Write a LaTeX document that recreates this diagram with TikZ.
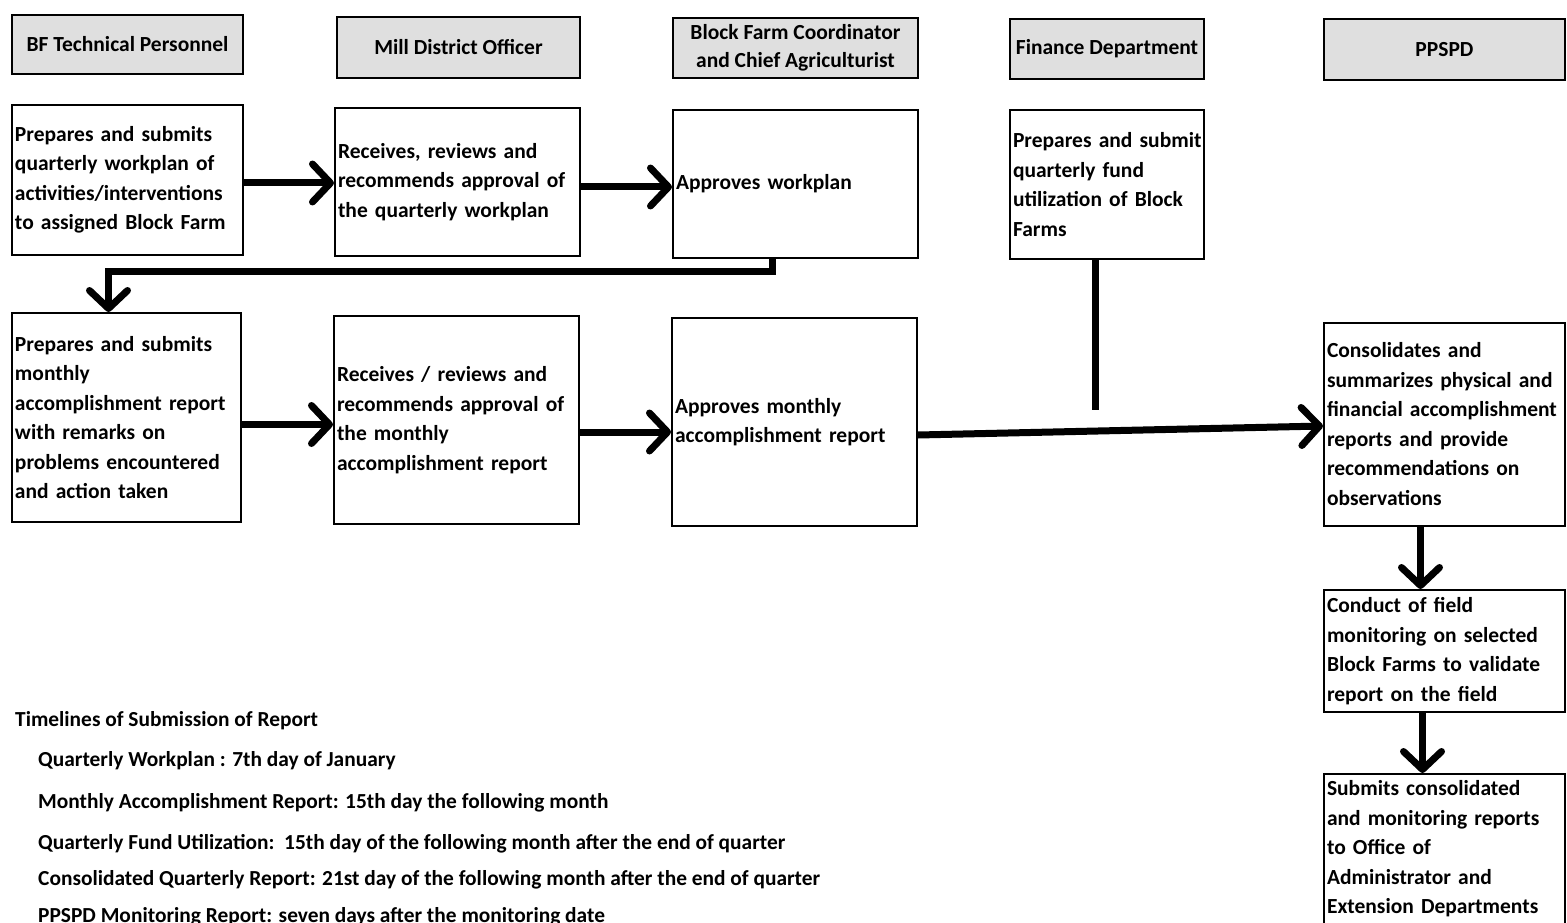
\documentclass[tikz,border=0pt]{standalone}
\usepackage{fontspec}
\setmainfont{Carlito}
\usetikzlibrary{arrows.meta}
\newcommand\nohyphs{\hyphenpenalty=10000 \exhyphenpenalty=10000 \hbadness=10000 \hfuzz=20pt\relax}
\begin{document}
\begin{tikzpicture}[x=1pt,y=-1pt,
  hdr/.style={draw=black, line width=2.6pt, fill=gray!25, font=\bfseries\fontsize{21.5}{28}\selectfont, align=center, inner sep=0pt},
  box/.style={draw=black, line width=2pt, font=\bfseries\fontsize{21.5}{29.5}\selectfont\nohyphs, align=left, inner xsep=3pt, inner ysep=0pt},
  flow/.style={line width=7pt, -{Straight Barb[length=18pt,width=38pt,line cap=round,line join=round]}},
  link/.style={line width=7pt},
  note/.style={font=\bfseries\fontsize{21.4}{24}\selectfont, anchor=base west, inner sep=0pt}
]
\useasboundingbox (0,0) rectangle (1567,923);
% headers
\node[hdr, minimum width=231, minimum height=59] (h1) at (127.5,44.5) {BF Technical Personnel};
\node[hdr, minimum width=243, minimum height=61] (h2) at (458.5,47.5) {Mill District Officer};
\node[hdr, minimum width=245, minimum height=60] (h3) at (795.5,48) {Block Farm Coordinator\\and Chief Agriculturist};
\node[hdr, minimum width=194, minimum height=60] (h4) at (1107,49) {Finance Department};
\node[hdr, minimum width=241, minimum height=61] (h5) at (1444.5,49.5) {PPSPD};
% row 1
\node[box, minimum width=231, minimum height=150, text width=225] (b1) at (127.5,180) {Prepares and submits\\quarterly workplan of\\activities/interventions\\to assigned Block Farm};
\node[box, minimum width=245, minimum height=148, text width=239] (b2) at (457.5,182) {Receives, reviews and\\recommends approval of\\the quarterly workplan};
\node[box, minimum width=245, minimum height=148, text width=239] (b3) at (795.5,184) {Approves workplan};
\node[box, minimum width=194, minimum height=149, text width=188] (b4) at (1107,184.5) {Prepares~and~submit\\quarterly fund\\utilization of Block\\Farms};
% row 2
\node[box, minimum width=229, minimum height=209, text width=223] (b5) at (126.5,417.5) {Prepares and submits\\monthly\\accomplishment report\\with remarks on\\problems encountered\\and action taken};
\node[box, minimum width=245, minimum height=208, text width=239] (b6) at (456.5,420) {Receives / reviews and\\recommends approval of\\the monthly\\accomplishment report};
\node[box, minimum width=245, minimum height=208, text width=239] (b7) at (794.5,422) {Approves monthly\\accomplishment report};
\node[box, minimum width=241, minimum height=203, text width=235] (b8) at (1444.5,424) {Consolidates and\\summarizes physical and\\financial accomplishment\\reports and provide\\recommendations on\\observations};
\node[box, minimum width=241, minimum height=122, text width=235] (b9) at (1444.5,651) {Conduct of field\\monitoring on selected\\Block Farms to validate\\report on the field};
\node[box, minimum width=241, minimum height=150, text width=235] (b10) at (1444.5,849) {Submits consolidated\\and monitoring reports\\to Office of\\Administrator and\\Extension Departments};
% connectors
\draw[flow] ([yshift=-3]b1.east) -- ([yshift=-3]b1.east -| b2.west);
\draw[flow] ([yshift=-5]b2.east) -- ([yshift=-5]b2.east -| b3.west);
\draw[flow] ([yshift=-7]b5.east) -- ([yshift=-7]b5.east -| b6.west);
\draw[flow] ([yshift=-12]b6.east) -- ([yshift=-12]b6.east -| b7.west);
\coordinate (fb) at ([xshift=-23]b3.south);
\coordinate (fb2) at ([xshift=-18]b5.north);
\draw[flow] (fb) -- ++(0,12) -| (fb2);
\draw[flow] ([yshift=-13]b7.east) -- ([yshift=-2]b8.west);
\coordinate (j) at (1095,410);
\draw[link] ([xshift=-12]b4.south) -- (j);
\draw[flow] ([xshift=-24]b8.south) -- ([xshift=-24]b9.north);
\draw[flow] ([xshift=-22]b9.south) -- ([xshift=-22]b10.north);
% timelines
\node[note] (t0) at (15,726) {Timelines of Submission of Report};
\node[note] (t1) at (38,766) {Quarterly Workplan : 7th\ day of January};
\node[note] (t2) at (38,808) {Monthly Accomplishment Report: 15th day the following month};
\node[note] (t3) at (38,849) {Quarterly Fund Utilization:\ \ 15th day of the following month after the end of quarter};
\node[note] (t4) at (38,885) {Consolidated Quarterly Report: 21st day of the following month after the end of quarter};
\node[note] (t5) at (38,922) {PPSPD Monitoring Report: seven days after the monitoring date};
\end{tikzpicture}
\end{document}
